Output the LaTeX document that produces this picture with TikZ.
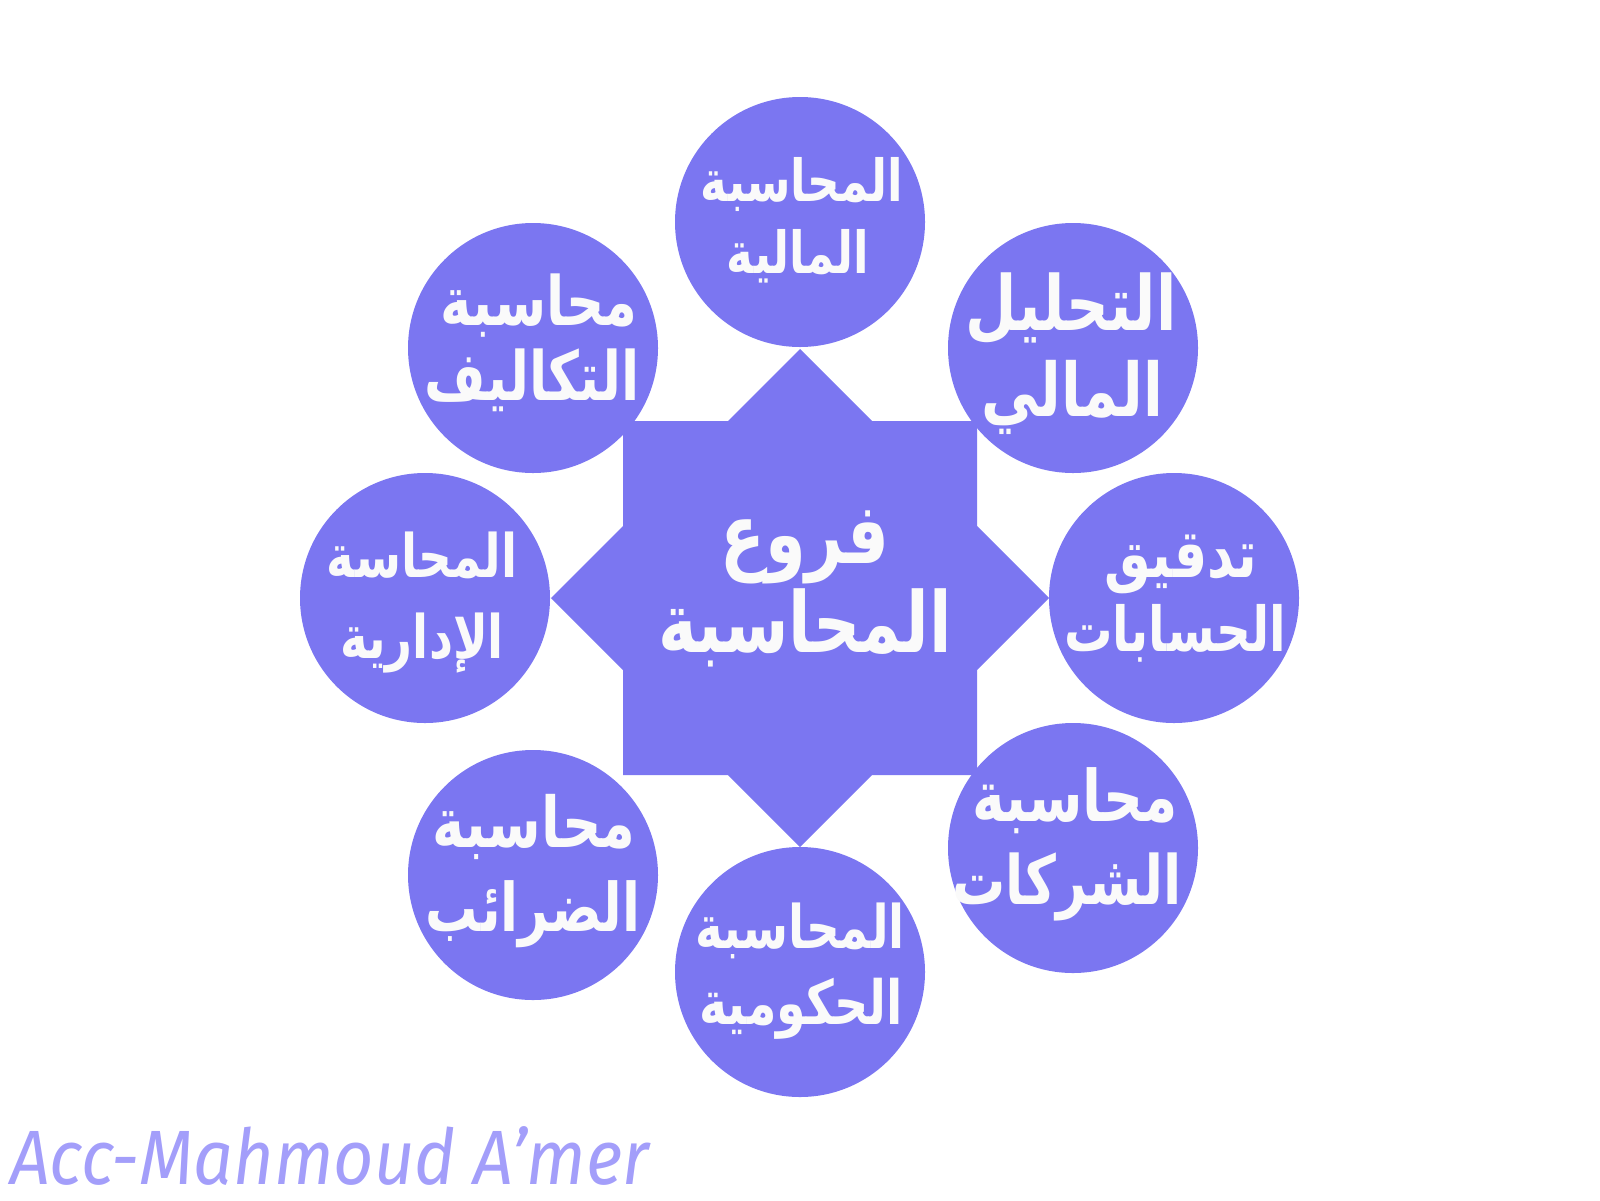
\documentclass[tikz,border=0pt]{standalone}
\usepackage{fontspec}
\setmainfont{Fira Sans}
\newfontfamily\arabicfont[Script=Arabic,FakeStretch=0.78]{DejaVu Sans}
\newfontfamily\footfont[FakeStretch=0.91]{Fira Sans}
\TeXXeTstate=1
\definecolor{purp}{HTML}{7B76F1}
\definecolor{footc}{HTML}{A39EFA}
\definecolor{txtc}{HTML}{FAFAFA}
\begin{document}
\begin{tikzpicture}[x=1pt,y=-1pt,
  branch/.style={circle, fill=purp, minimum size=250pt, inner sep=0pt},
  lbl/.style={inner sep=0pt, anchor=base, text=txtc,
    font=\arabicfont\bfseries\fontsize{#1}{#1}\selectfont}]
\useasboundingbox (0,0) rectangle (1600,1200);
% central star
\fill[purp] (623,421) -- (728,421) -- (800,349) -- (872,421) -- (977,421)
  -- (977,526) -- (1049,598) -- (977,670) -- (977,775) -- (872,775)
  -- (800,847) -- (728,775) -- (623,775) -- (623,670) -- (551,598)
  -- (623,526) -- cycle;
% branch circles
\node[branch] (fin)  at (800,222) {};
\node[branch] (ana)  at (1073,348) {};
\node[branch] (aud)  at (1174,598) {};
\node[branch] (corp) at (1073,848) {};
\node[branch] (gov)  at (800,972) {};
\node[branch] (tax)  at (533,875) {};
\node[branch] (man)  at (425,598) {};
\node[branch] (cost) at (533,348) {};
% centre text
\node[lbl=84] (hub1) at (805,563) {\beginR فروع\endR};
\node[lbl=84] (hub2) at (805,652) {\beginR المحاسبة\endR};
% branch texts
\node[lbl=58] (fin1) at (802,201) {\beginR المحاسبة\endR};
\node[lbl=58] (fin2) at (798,273) {\beginR المالية\endR};
\node[lbl=76] (ana1) at (1071,330) {\beginR التحليل\endR};
\node[lbl=74] (ana2) at (1072,416) {\beginR المالي\endR};
\node[lbl=67] (aud1) at (1181,577) {\beginR تدقيق\endR};
\node[lbl=62] (aud2) at (1175,651) {\beginR الحسابات\endR};
\node[lbl=71] (corp1) at (1075,821) {\beginR محاسبة\endR};
\node[lbl=68] (corp2) at (1067,904) {\beginR الشركات\endR};
\node[lbl=60] (gov1) at (800,948) {\beginR المحاسبة\endR};
\node[lbl=61] (gov2) at (801,1024) {\beginR الحكومية\endR};
\node[lbl=70] (tax1) at (534,847) {\beginR محاسبة\endR};
\node[lbl=67] (tax2) at (533,931) {\beginR الضرائب\endR};
\node[lbl=60] (man1) at (422,577) {\beginR المحاسة\endR};
\node[lbl=60] (man2) at (422,658) {\beginR الإدارية\endR};
\node[lbl=68] (cost1) at (539,325) {\beginR محاسبة\endR};
\node[lbl=68] (cost2) at (532,400) {\beginR التكاليف\endR};
% author
\node[anchor=base west, inner sep=0pt, text depth=0pt, text=footc, font=\footfont\itshape\fontsize{77}{80}\selectfont] (author) at (10,1184) {Acc-Mahmoud A’mer};
\end{tikzpicture}
\end{document}
